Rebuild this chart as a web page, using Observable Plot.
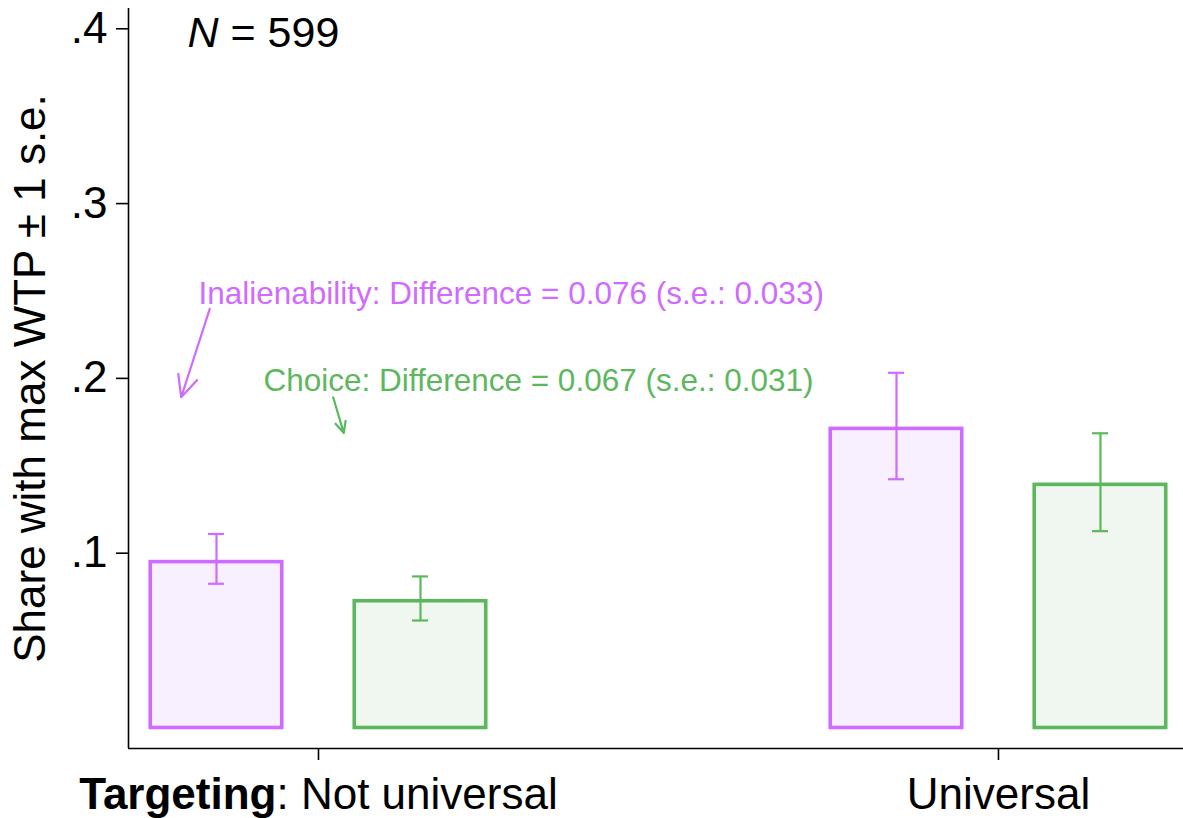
<!DOCTYPE html>
<html>
<head>
<meta charset="utf-8">
<script src="https://cdn.jsdelivr.net/npm/d3@7"></script>
<script src="https://cdn.jsdelivr.net/npm/@observablehq/plot@0.6"></script>
<style>
  html, body { margin: 0; padding: 0; background: #fff; }
  #chart { width: 1183px; height: 818px; }
</style>
</head>
<body>
<div id="chart"></div>
<script>
// ---- data ----
const groups = ["Targeting: Not universal", "Universal"];
const treatments = ["Inalienability", "Choice"];
const shareValues = [0.0949, 0.0725, 0.1711, 0.1391];       // order: NU-Inal, NU-Choice, U-Inal, U-Choice
const ciLow =       [0.0825, 0.0615, 0.1423, 0.1126];
const ciHigh =      [0.1110, 0.0867, 0.2032, 0.1686];
const yTicks = [0.1, 0.2, 0.3, 0.4];
const yTickLabels = [".1", ".2", ".3", ".4"];
const noteTexts = ["Inalienability: Difference = 0.076 (s.e.: 0.033)", "Choice: Difference = 0.067 (s.e.: 0.031)"];
const noteX = [0.8235, 0.919];
const noteY = [0.2486, 0.1983];
const arrowX1 = [0.8401, 1.0216];
const arrowY1 = [0.2398, 0.1892];
const arrowX2 = [0.7981, 1.0372];
const arrowY2 = [0.1892, 0.1687];
const sampleText = "N = 599";

// ---- build table ----
const rows = [];
groups.forEach((g, gi) => treatments.forEach((t, ti) => {
  const k = gi * treatments.length + ti;
  rows.push({group: g, gpos: gi + 1, treatment: t, tpos: ti, value: shareValues[k], lo: ciLow[k], hi: ciHigh[k]});
}));
const notes = noteTexts.map((t, i) => ({text: t, x: noteX[i], y: noteY[i], treatment: treatments[i]}));
const arrows = arrowX1.map((x, i) => ({x1: x, y1: arrowY1[i], x2: arrowX2[i], y2: arrowY2[i], treatment: treatments[i]}));

const strokeCol = {Inalienability: "#CF6BFF", Choice: "#5DB85D"};
const fillCol = {Inalienability: "#F8F0FE", Choice: "#F0F7F0"};
const offset = 0.15, half = 0.0967, cap = 0.0118;
const center = d => d.gpos + (d.tpos === 0 ? -offset : offset);

const xDomain = [0.7206, 2.2721];
const yDomain = [-0.01173, 0.4116];

const plot = Plot.plot({
  width: 1183,
  height: 818,
  marginLeft: 128,
  marginRight: 0,
  marginTop: 8,
  marginBottom: 70,
  style: {fontFamily: "'Liberation Sans', Arial, Helvetica, sans-serif", fontSize: "44px", color: "#000", background: "#fff"},
  x: {type: "linear", domain: xDomain, ticks: [1, 2], tickFormat: d => groups[Math.round(d) - 1], tickSize: 12, tickPadding: 17, label: null},
  y: {domain: yDomain, ticks: yTicks, tickFormat: d => yTickLabels[yTicks.indexOf(d)], tickSize: 12, tickPadding: 9, label: null},
  marks: [
    Plot.rectY(rows, {x1: d => center(d) - half, x2: d => center(d) + half, y1: 0, y2: "value",
      fill: d => fillCol[d.treatment], stroke: d => strokeCol[d.treatment], strokeWidth: 3.6}),
    Plot.ruleX(rows, {x: center, y1: "lo", y2: "hi", stroke: d => strokeCol[d.treatment], strokeWidth: 2.2}),
    Plot.ruleY(rows, {y: "lo", x1: d => center(d) - cap, x2: d => center(d) + cap, stroke: d => strokeCol[d.treatment], strokeWidth: 2.2}),
    Plot.ruleY(rows, {y: "hi", x1: d => center(d) - cap, x2: d => center(d) + cap, stroke: d => strokeCol[d.treatment], strokeWidth: 2.2}),
    Plot.ruleX([xDomain[0]], {stroke: "#000", strokeWidth: 1.6}),
    Plot.ruleY([yDomain[0]], {stroke: "#000", strokeWidth: 1.6}),
    Plot.text(notes, {x: "x", y: "y", text: "text", textAnchor: "start", fontSize: 31.5, fill: d => strokeCol[d.treatment]}),
    Plot.arrow(arrows, {x1: "x1", y1: "y1", x2: "x2", y2: "y2", stroke: d => strokeCol[d.treatment], strokeWidth: 2.2, headLength: 16, headAngle: 50}),
    Plot.text([sampleText], {x: 0.8074, y: 0.3975, text: d => d, textAnchor: "start", fontSize: 43, fill: "#000"}),
    Plot.text(["Share with max WTP ± 1 s.e."], {frameAnchor: "left", rotate: -90, dx: -98, textAnchor: "middle", fontSize: 44, fill: "#000"})
  ]
});

// Mixed styling inside texts
plot.querySelectorAll("text").forEach(t => {
  if (t.textContent === "Targeting: Not universal") {
    t.innerHTML = '<tspan font-weight="bold">Targeting</tspan>: Not universal';
  } else if (t.textContent === sampleText) {
    t.innerHTML = '<tspan font-style="italic">N</tspan> = 599';
  }
});
plot.querySelectorAll('[aria-label="x-axis tick"] path, [aria-label="y-axis tick"] path').forEach(p => p.setAttribute("stroke-width", "1.6"));
document.getElementById("chart").appendChild(plot);
</script>
</body>
</html>
